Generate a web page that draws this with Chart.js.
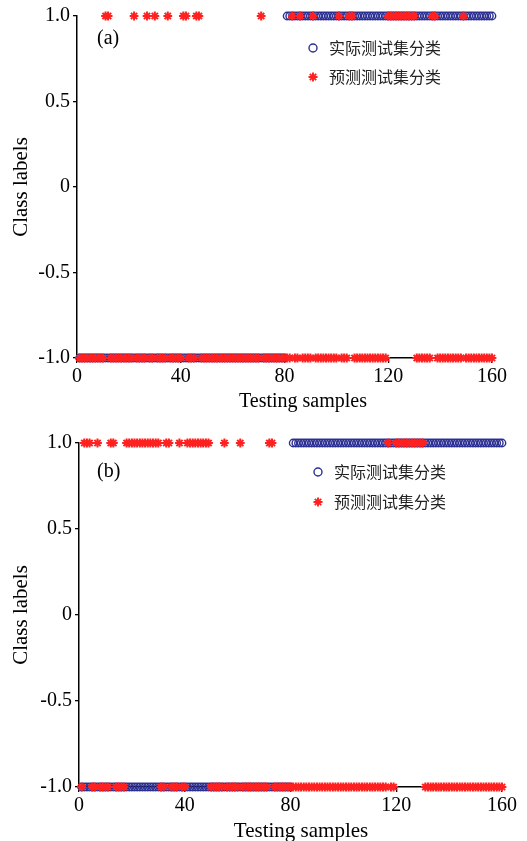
<!DOCTYPE html>
<html><head><meta charset="utf-8">
<script src="https://cdn.jsdelivr.net/npm/chart.js@4.4.0/dist/chart.umd.min.js"></script>
<style>
html,body{margin:0;padding:0;background:#fff;overflow:hidden;width:527px;height:841px}
canvas{position:absolute;left:0;display:block}
</style></head>
<body>
<canvas id="ca" width="527" height="420" style="top:0;width:527px;height:420px"></canvas>
<canvas id="cb" width="527" height="421" style="top:420px;width:527px;height:421px"></canvas>
<script>
// ---- data ----
const samples = Array.from({length:160}, (_, i) => i + 1); // sample numbers 1..160
const actualClass = [
 -1,-1,-1,-1,-1,-1,-1,-1,-1,-1,-1,-1,-1,-1,-1,-1,-1,-1,-1,-1,
 -1,-1,-1,-1,-1,-1,-1,-1,-1,-1,-1,-1,-1,-1,-1,-1,-1,-1,-1,-1,
 -1,-1,-1,-1,-1,-1,-1,-1,-1,-1,-1,-1,-1,-1,-1,-1,-1,-1,-1,-1,
 -1,-1,-1,-1,-1,-1,-1,-1,-1,-1,-1,-1,-1,-1,-1,-1,-1,-1,-1,-1,
  1, 1, 1, 1, 1, 1, 1, 1, 1, 1, 1, 1, 1, 1, 1, 1, 1, 1, 1, 1,
  1, 1, 1, 1, 1, 1, 1, 1, 1, 1, 1, 1, 1, 1, 1, 1, 1, 1, 1, 1,
  1, 1, 1, 1, 1, 1, 1, 1, 1, 1, 1, 1, 1, 1, 1, 1, 1, 1, 1, 1,
  1, 1, 1, 1, 1, 1, 1, 1, 1, 1, 1, 1, 1, 1, 1, 1, 1, 1, 1, 1
];
const predictedA = [
 -1,-1,-1,-1,-1,-1,-1,-1,-1,-1, 1, 1,-1,-1,-1,-1,-1,-1,-1,-1,
 -1, 1,-1,-1,-1,-1, 1,-1,-1, 1,-1,-1,-1,-1, 1,-1,-1,-1,-1,-1,
  1, 1,-1,-1,-1, 1, 1,-1,-1,-1,-1,-1,-1,-1,-1,-1,-1,-1,-1,-1,
 -1,-1,-1,-1,-1,-1,-1,-1,-1,-1, 1,-1,-1,-1,-1,-1,-1,-1,-1,-1,
 -1,-1, 1,-1,-1, 1,-1,-1,-1,-1, 1,-1,-1,-1,-1,-1,-1,-1,-1,-1,
  1,-1,-1,-1, 1, 1,-1,-1,-1,-1,-1,-1,-1,-1,-1,-1,-1,-1,-1, 1,
  1, 1, 1, 1, 1, 1, 1, 1, 1, 1,-1,-1,-1,-1,-1,-1, 1, 1,-1,-1,
 -1,-1,-1,-1,-1,-1,-1,-1, 1,-1,-1,-1,-1,-1,-1,-1,-1,-1,-1,-1
];
const predictedB = [
 -1, 1, 1, 1,-1,-1, 1,-1,-1,-1,-1, 1, 1,-1,-1,-1,-1, 1, 1, 1,
  1, 1, 1, 1, 1, 1, 1, 1, 1, 1,-1,-1, 1, 1,-1,-1,-1, 1,-1,-1,
  1, 1, 1, 1, 1, 1, 1, 1, 1,-1,-1,-1,-1,-1, 1,-1,-1,-1,-1,-1,
  1,-1,-1,-1,-1,-1,-1,-1,-1,-1,-1, 1, 1,-1,-1,-1,-1,-1,-1,-1,
 -1,-1,-1,-1,-1,-1,-1,-1,-1,-1,-1,-1,-1,-1,-1,-1,-1,-1,-1,-1,
 -1,-1,-1,-1,-1,-1,-1,-1,-1,-1,-1,-1,-1,-1,-1,-1, 1,-1,-1, 1,
  1, 1, 1, 1, 1, 1, 1, 1, 1, 1,-1,-1,-1,-1,-1,-1,-1,-1,-1,-1,
 -1,-1,-1,-1,-1,-1,-1,-1,-1,-1,-1,-1,-1,-1,-1,-1,-1,-1,-1,-1
];
const xTicks = [0, 40, 80, 120, 160];
const yTicks = [-1, -0.5, 0, 0.5, 1];
const yTickLabels = ['-1.0', '-0.5', '0', '0.5', '1.0'];
const seriesNames = ['实际测试集分类', '预测测试集分类'];
const panelNames = ['(a)', '(b)'];
const xTitle = 'Testing samples';
const yTitle = 'Class labels';

// ---- style ----
const SERIF = "'Liberation Serif','Times New Roman',serif";
const CJK = "'Noto Sans CJK SC','Noto Sans CJK JP',sans-serif";
const BLUE = '#2b2f92';
const RED = '#ff2020';

function drawStar(ctx, x, y, r) {
  ctx.beginPath();
  for (let k = 0; k < 4; k++) {
    const a = k * Math.PI / 4;
    ctx.moveTo(x - r * Math.cos(a), y - r * Math.sin(a));
    ctx.lineTo(x + r * Math.cos(a), y + r * Math.sin(a));
  }
  ctx.stroke();
}

function makeChart(canvasId, predicted, geo, panelName) {
  const pts = vals => samples.map((s, i) => ({x: s, y: vals[i]}));
  const annot = {
    id: 'annot',
    afterDraw(chart) {
      const ctx = chart.ctx;
      ctx.save();
      ctx.fillStyle = '#000';
      ctx.font = '20px ' + SERIF;
      ctx.textBaseline = 'middle';
      ctx.textAlign = 'left';
      ctx.fillText(panelName, geo.labelX, geo.labelY);
      ctx.textAlign = 'center';
      ctx.font = geo.xTitleSize + 'px ' + SERIF;
      ctx.fillText(xTitle, geo.xTitleX, geo.xTitleY);
      ctx.textAlign = 'left';
      // legend
      ctx.lineWidth = 1.4;
      ctx.strokeStyle = BLUE;
      ctx.beginPath();
      ctx.arc(geo.legX, geo.legY1, 4, 0, Math.PI * 2);
      ctx.stroke();
      ctx.strokeStyle = RED;
      ctx.lineWidth = 1.9;
      drawStar(ctx, geo.legX, geo.legY2, 4.5);
      ctx.fillStyle = '#222';
      ctx.font = '16px ' + CJK;
      ctx.fillText(seriesNames[0], geo.legX + 16, geo.legY1);
      ctx.fillText(seriesNames[1], geo.legX + 16, geo.legY2);
      ctx.restore();
    }
  };
  return new Chart(document.getElementById(canvasId), {
    type: 'scatter',
    data: {datasets: [
      {label: seriesNames[1], data: pts(predicted), pointStyle: 'star', pointRadius: 4.4,
       borderColor: RED, backgroundColor: RED, pointBorderWidth: 2, borderWidth: 2, order: 0, clip: false},
      {label: seriesNames[0], data: pts(actualClass), pointStyle: 'circle', pointRadius: 3.7,
       borderColor: BLUE, backgroundColor: 'rgba(0,0,0,0)', pointBorderWidth: 1.4, borderWidth: 1.4, order: 1, clip: false}
    ]},
    options: {
      responsive: false, animation: false, devicePixelRatio: 1,
      layout: {padding: {left: 0, top: geo.top, right: 527 - geo.right, bottom: 0}},
      plugins: {legend: {display: false}, tooltip: {enabled: false}},
      scales: {
        x: {
          type: 'linear', min: xTicks[0], max: xTicks[xTicks.length - 1],
          afterBuildTicks: s => { s.ticks = xTicks.map(v => ({value: v})); },
          afterFit: s => { s.height = geo.h - geo.bottom; },
          grid: {drawOnChartArea: false, drawTicks: true, tickLength: 5, color: '#000', lineWidth: 1.3},
          border: {display: true, color: '#000', width: 1.5},
          ticks: {color: '#000', font: {family: SERIF, size: 20}, padding: 2, maxRotation: 0, autoSkip: false},
          title: {display: false}
        },
        y: {
          type: 'linear', min: yTicks[0], max: yTicks[yTicks.length - 1],
          afterBuildTicks: s => { s.ticks = yTicks.map(v => ({value: v})); },
          afterFit: s => { s.width = geo.left; },
          grid: {drawOnChartArea: false, drawTicks: true, tickLength: 4, color: '#000', lineWidth: 1.3},
          border: {display: true, color: '#000', width: 1.5},
          ticks: {color: '#000', font: {family: SERIF, size: 20}, padding: 3,
                  callback: v => yTickLabels[yTicks.findIndex(t => Math.abs(t - v) < 1e-9)]},
          title: {display: true, text: yTitle, color: '#000', font: {family: SERIF, size: 21},
                  padding: {top: 9, bottom: 0}}
        }
      }
    },
    plugins: [annot]
  });
}

makeChart('ca', predictedA,
  {left: 77, right: 492, top: 16, bottom: 358, h: 420, xTitleX: 303, xTitleY: 402, xTitleSize: 20,
   labelX: 97, labelY: 39, legX: 313, legY1: 48, legY2: 77}, panelNames[0]);
makeChart('cb', predictedB,
  {left: 79, right: 502, top: 23, bottom: 367, h: 421, xTitleX: 301, xTitleY: 411, xTitleSize: 21,
   labelX: 97, labelY: 52, legX: 318, legY1: 52, legY2: 82}, panelNames[1]);
</script>
</body></html>
